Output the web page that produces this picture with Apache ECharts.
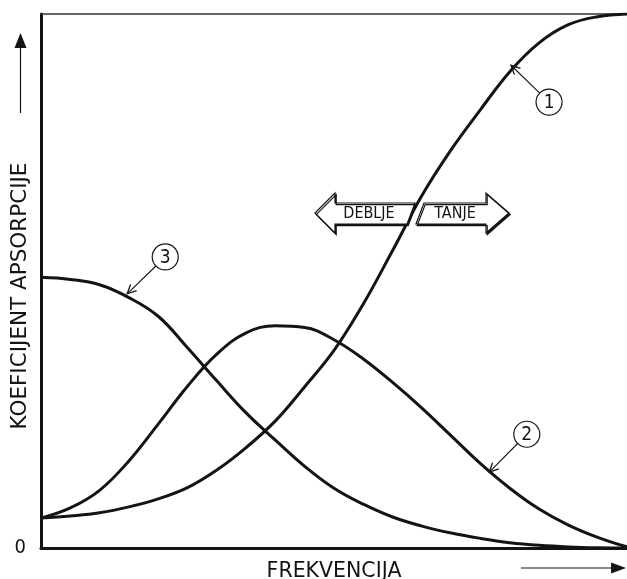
<!DOCTYPE html>
<html>
<head>
<meta charset="utf-8">
<title>Koeficijent apsorpcije</title>
<script src="https://cdn.jsdelivr.net/npm/echarts@6/dist/echarts.min.js"></script>
<style>
  html, body { margin: 0; padding: 0; background: #fff; }
  #main { width: 627px; height: 579px; }
</style>
</head>
<body>
<div id="main"></div>
<script>
// frequency (relative, 0..100) and the three absorption curves
const frequency = [0, 5, 10, 15, 20, 25, 30, 35, 40, 45, 50, 55, 60, 65, 70, 75, 80, 85, 90, 95, 100]
const curve1 = [5.6, 6.0, 6.6, 7.7, 9.2, 11.3, 14.6, 18.8, 23.8, 30.2, 37.0, 45.7, 55.7, 66.0, 74.6, 82.1, 89.2, 94.6, 98.0, 99.5, 100]
const curve2 = [5.6, 7.5, 10.8, 16.3, 23.2, 30.3, 36.3, 40.3, 41.6, 41.3, 39.0, 35.4, 31.0, 26.2, 21.0, 15.8, 11.2, 7.3, 4.3, 2.0, 0.2]
const curve3 = [50.7, 50.3, 49.3, 46.9, 43.4, 37.5, 31.3, 25.3, 20.2, 15.3, 11.2, 8.2, 5.8, 4.1, 2.8, 1.8, 1.0, 0.5, 0.2, 0.05, 0]
const curveNames = ['1', '2', '3']

const font = "'DejaVu Sans', sans-serif"
const narrow = "'DejaVu Sans Condensed', 'DejaVu Sans', sans-serif"
const ink = '#141414'

const chart = echarts.init(document.getElementById('main'))

const makeSeries = (name, values) => ({
  name,
  type: 'line',
  smooth: 0.4,
  showSymbol: false,
  silent: true,
  data: frequency.map((f, i) => [f, values[i]]),
  lineStyle: { color: ink, width: 3 }
})

const option = {
  animation: false,
  backgroundColor: '#fff',
  grid: { left: 41, right: 0, top: 14, bottom: 31, show: false, containLabel: false, outerBoundsMode: 'none' },
  xAxis: [{
    type: 'value', min: 0, max: 100,
    name: 'FREKVENCIJA', nameLocation: 'middle', nameGap: 13, nameMoveOverlap: false,
    nameTextStyle: { fontFamily: font, fontSize: 20.5, color: ink },
    axisLine: { show: true, lineStyle: { color: ink, width: 3 } },
    axisTick: { show: false }, axisLabel: { show: false }, splitLine: { show: false }
  }, {
    type: 'value', min: 0, max: 100, position: 'top',
    axisLine: { show: true, lineStyle: { color: '#333', width: 1.5 } },
    axisTick: { show: false }, axisLabel: { show: false }, splitLine: { show: false }
  }],
  yAxis: {
    type: 'value', min: 0, max: 100, interval: 100,
    name: 'KOEFICIJENT APSORPCIJE', nameLocation: 'middle', nameRotate: 90, nameGap: 10, nameMoveOverlap: false,
    nameTextStyle: { fontFamily: font, fontSize: 21.5, color: ink, padding: [0, 30, 0, 0] },
    axisLine: { show: true, lineStyle: { color: ink, width: 3 } },
    axisTick: { show: false }, splitLine: { show: false },
    axisLabel: {
      margin: 15, fontFamily: narrow, fontSize: 20, color: ink,
      formatter: v => (v === 0 ? '0' : '')
    }
  },
  series: [
    makeSeries(curveNames[0], curve1),
    makeSeries(curveNames[1], curve2),
    makeSeries(curveNames[2], curve3)
  ]
}
chart.setOption(option)

// numbered callouts: where the arrow touches the curve and where the circled number sits
const callouts = [
  { text: '1', tip: [80.2, 90.4], badge: [86.7, 83.5] },
  { text: '2', tip: [76.5, 14.2], badge: [82.9, 21.3] },
  { text: '3', tip: [14.7, 47.6], badge: [21.2, 54.5] }
]

const graphics = []
callouts.forEach(c => {
  const [tx, ty] = chart.convertToPixel({ gridIndex: 0 }, c.tip)
  const [bx, by] = chart.convertToPixel({ gridIndex: 0 }, c.badge)
  const r = 13
  const dx = tx - bx, dy = ty - by
  const len = Math.hypot(dx, dy)
  const ux = dx / len, uy = dy / len
  const sx = bx + ux * r, sy = by + uy * r
  const head = 10, ang = 0.45
  const back = a => [tx - head * (ux * Math.cos(a) - uy * Math.sin(a)), ty - head * (uy * Math.cos(a) + ux * Math.sin(a))]
  graphics.push(
    { type: 'circle', shape: { cx: bx, cy: by, r }, style: { fill: '#fff', stroke: ink, lineWidth: 1.2 }, z: 100 },
    { type: 'text', x: bx, y: by + 1, style: { text: c.text, fontFamily: narrow, fontSize: 19, fill: ink, align: 'center', verticalAlign: 'middle' }, z: 101 },
    { type: 'line', shape: { x1: sx, y1: sy, x2: tx, y2: ty }, style: { stroke: ink, lineWidth: 1.1 }, z: 100 },
    { type: 'polyline', shape: { points: [back(ang), [tx, ty], back(-ang)] }, style: { stroke: ink, lineWidth: 1.3, fill: null }, z: 100 }
  )
})

// direction arrows outside the axes
graphics.push(
  { type: 'line', shape: { x1: 20.5, y1: 113, x2: 20.5, y2: 44 }, style: { stroke: ink, lineWidth: 1.2 } },
  { type: 'polygon', shape: { points: [[20.5, 33], [14.5, 48], [26.5, 48]] }, style: { fill: ink } },
  { type: 'line', shape: { x1: 521, y1: 568, x2: 614, y2: 568 }, style: { stroke: ink, lineWidth: 1.2 } },
  { type: 'polygon', shape: { points: [[626, 568], [611, 562.5], [611, 573.5]] }, style: { fill: ink } }
)

// DEBLJE / TANJE double arrow
const arrowStyle = { fill: '#fff', stroke: ink, lineWidth: 1.2, shadowColor: ink, shadowOffsetX: 1.2, shadowOffsetY: 1.6, shadowBlur: 0 }
graphics.push(
  { type: 'polygon', z: 90, shape: { points: [[315, 213], [335, 193], [335, 203], [415, 203], [407, 224], [335, 224], [335, 233]] }, style: arrowStyle },
  { type: 'polygon', z: 90, shape: { points: [[424, 203], [486, 203], [486, 193], [509, 213], [486, 233], [486, 224], [416, 224]] }, style: arrowStyle },
  { type: 'text', z: 91, x: 369, y: 214, style: { text: 'DEBLJE', fontFamily: narrow, fontSize: 16, fill: ink, align: 'center', verticalAlign: 'middle' } },
  { type: 'text', z: 91, x: 455, y: 214, style: { text: 'TANJE', fontFamily: narrow, fontSize: 16, fill: ink, align: 'center', verticalAlign: 'middle' } }
)

chart.setOption({ graphic: graphics })
</script>
</body>
</html>
